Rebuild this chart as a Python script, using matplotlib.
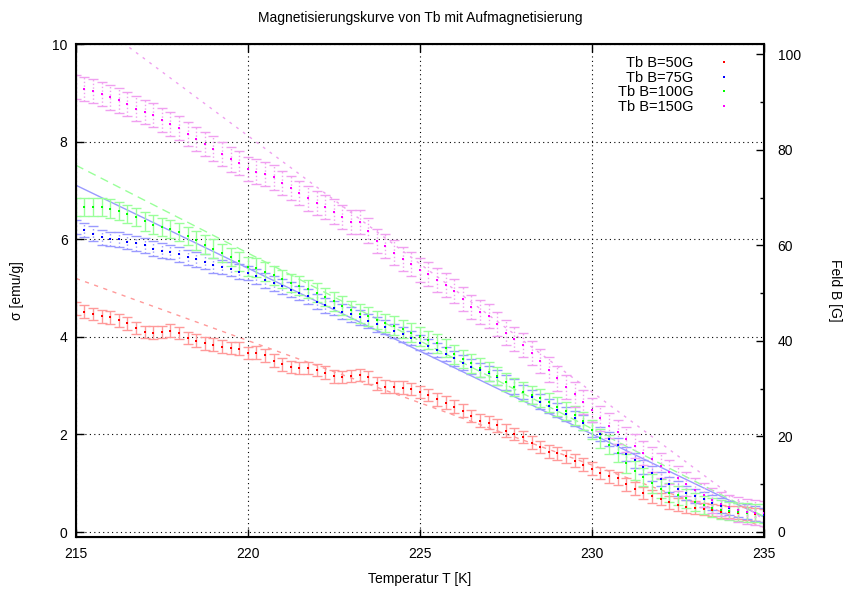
import numpy as np
import matplotlib
matplotlib.use('Agg')
import matplotlib.pyplot as plt
from matplotlib.lines import Line2D

plt.rcParams['font.family'] = ['Liberation Sans', 'DejaVu Sans']

# Temperatur-Raster (0.25 K)
T = np.arange(215, 235.001, 0.25)

sigma_50 = [4.58, 4.52, 4.47, 4.42, 4.40, 4.34, 4.28, 4.18, 4.10, 4.09, 4.10, 4.13, 4.08, 3.98, 3.92, 3.87,
            3.84, 3.80, 3.77, 3.76, 3.67, 3.68, 3.62, 3.51, 3.44, 3.38, 3.36, 3.36, 3.32, 3.27, 3.19, 3.18,
            3.20, 3.22, 3.17, 3.05, 2.98, 2.97, 2.96, 2.93, 2.87, 2.81, 2.72, 2.65, 2.57, 2.49, 2.38, 2.28,
            2.24, 2.19, 2.08, 2.01, 1.95, 1.83, 1.74, 1.65, 1.61, 1.55, 1.46, 1.38, 1.30, 1.21, 1.14, 1.10,
            0.98, 0.89, 0.80, 0.73, 0.68, 0.61, 0.56, 0.52, 0.50, 0.47, 0.45, 0.42, 0.41, 0.40, 0.38, 0.36, 0.34]
sigma_75 = [6.25, 6.19, 6.12, 6.04, 6.01, 6.00, 5.95, 5.92, 5.88, 5.81, 5.77, 5.74, 5.69, 5.63, 5.59, 5.54,
            5.47, 5.43, 5.39, 5.34, 5.31, 5.24, 5.16, 5.10, 5.04, 4.97, 4.90, 4.83, 4.72, 4.65, 4.59, 4.52,
            4.46, 4.40, 4.33, 4.26, 4.20, 4.12, 4.05, 3.98, 3.88, 3.81, 3.73, 3.65, 3.56, 3.47, 3.39, 3.32,
            3.25, 3.17, 3.07, 2.98, 2.87, 2.77, 2.67, 2.58, 2.50, 2.42, 2.33, 2.24, 2.10, 2.01, 1.91, 1.78,
            1.60, 1.47, 1.33, 1.20, 1.09, 0.98, 0.89, 0.80, 0.74, 0.67, 0.60, 0.54, 0.49, 0.45, 0.42, 0.38, 0.35]
sigma_100 = [6.66, 6.66, 6.66, 6.66, 6.63, 6.58, 6.52, 6.46, 6.37, 6.30, 6.25, 6.21, 6.15, 6.07, 5.98, 5.89,
             5.81, 5.72, 5.64, 5.55, 5.44, 5.42, 5.34, 5.26, 5.19, 5.11, 5.05, 4.98, 4.91, 4.82, 4.73, 4.64,
             4.55, 4.48, 4.42, 4.35, 4.29, 4.23, 4.16, 4.09, 4.01, 3.94, 3.87, 3.77, 3.64, 3.55, 3.46, 3.37,
             3.29, 3.20, 3.08, 2.97, 2.88, 2.81, 2.75, 2.66, 2.57, 2.48, 2.39, 2.28, 2.10, 1.92, 1.79, 1.62,
             1.41, 1.26, 1.13, 1.00, 0.89, 0.81, 0.75, 0.69, 0.62, 0.55, 0.50, 0.46, 0.43, 0.41, 0.40, 0.39, 0.38]
sigma_150 = [9.12, 9.08, 9.04, 8.98, 8.91, 8.85, 8.77, 8.68, 8.61, 8.55, 8.45, 8.37, 8.28, 8.16, 8.06, 7.96,
             7.86, 7.75, 7.64, 7.56, 7.44, 7.39, 7.34, 7.27, 7.16, 7.05, 6.95, 6.84, 6.74, 6.66, 6.57, 6.46,
             6.36, 6.36, 6.18, 5.97, 5.86, 5.73, 5.60, 5.50, 5.37, 5.29, 5.17, 5.06, 4.94, 4.78, 4.61, 4.51,
             4.43, 4.26, 4.09, 3.96, 3.84, 3.67, 3.50, 3.33, 3.15, 2.97, 2.82, 2.67, 2.50, 2.33, 2.18, 2.05,
             1.90, 1.76, 1.62, 1.49, 1.36, 1.23, 1.10, 0.98, 0.86, 0.76, 0.65, 0.57, 0.51, 0.46, 0.42, 0.40, 0.38]

# Fehler pro Messreihe
err = [0.13, 0.15, 0.19, 0.25]

# lineare Fits: Wert bei 215 K und Steigung
fit_215 = [5.20, 7.11, 7.52, 10.75]
fit_slope = [-0.255, -0.34, -0.36, -0.525]

labels = ['Tb B=50G', 'Tb B=75G', 'Tb B=100G', 'Tb B=150G']
colors = ['#ff0000', '#0000ff', '#00ff00', '#ff00ff']
light = ['#ff9a9a', '#9a9aff', '#9aff9a', '#f0a0f0']
bar_ls = ['-', ':', '-', ':']
fit_ls = [(0, (3, 4)), '-', (0, (6, 4)), (0, (2, 4))]
series = [sigma_50, sigma_75, sigma_100, sigma_150]

fig = plt.figure(figsize=(8.43, 5.9), dpi=100)
ax = fig.add_axes([0.090, 0.090, 0.816, 0.835])

for i in range(4):
    eb = ax.errorbar(T, series[i], yerr=err[i], fmt='none', ecolor=light[i],
                     elinewidth=1, capsize=3.5, capthick=1, zorder=2)
    eb[2][0].set_linestyle(bar_ls[i])
    ax.plot(T, series[i], 's', color=colors[i], markersize=1.7, markeredgewidth=0, zorder=3)
    fit = fit_215[i] + fit_slope[i] * (T - 215)
    ax.plot(T, fit, color=light[i], lw=1, linestyle=fit_ls[i], zorder=1)

ax.set_xlim(215, 235)
ax.set_ylim(-0.1, 10)
ax.set_xticks([215, 220, 225, 230, 235])
ax.set_yticks([0, 2, 4, 6, 8, 10])
ax.grid(True, color='black', linestyle=(0, (1, 3)), linewidth=0.8)
ax.tick_params(direction='in', length=6, width=1, labelsize=10, top=True, right=True, pad=7)
ax.tick_params(axis='y', pad=6)
for s in ax.spines.values():
    s.set_linewidth(1.5)

ax2 = ax.twinx()
ax2.set_ylim(-1.05, 102.1)
ax2.set_yticks([0, 20, 40, 60, 80, 100])
ax2.set_yticks([10, 30, 50, 70, 90], minor=True)
ax2.tick_params(direction='in', length=6, width=1, labelsize=10, pad=10)
ax2.tick_params(which='minor', direction='in', length=3, width=1)
ax2.set_ylabel('Feld B [G]', fontsize=10, rotation=-90, labelpad=30)

ax.set_xlabel('Temperatur T [K]', fontsize=10, labelpad=8)
ax.set_ylabel('σ [emu/g]', fontsize=10, labelpad=20)
ax.set_title('Magnetisierungskurve von Tb mit Aufmagnetisierung', fontsize=10, pad=16)

handles = [Line2D([], [], marker='s', color=colors[i], linestyle='none', markersize=1.6,
                  markeredgewidth=0) for i in range(4)]
ax2.legend(handles, labels, loc='upper right', frameon=False, markerfirst=False,
           fontsize=10.5, handlelength=2.5, labelspacing=0.05, borderaxespad=0.4,
           bbox_to_anchor=(0.985, 1.0))

fig.savefig('out.png', dpi=100)
